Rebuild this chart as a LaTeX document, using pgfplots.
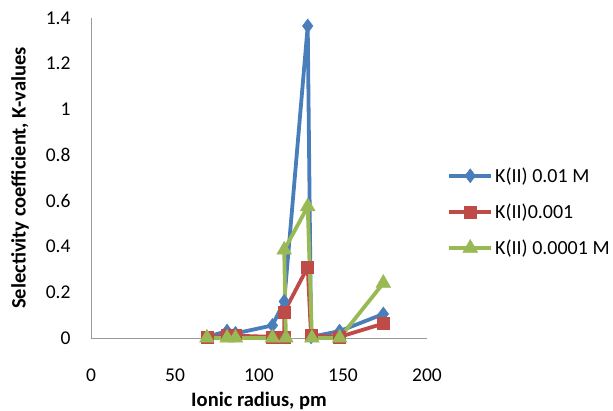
\documentclass[border=0pt]{standalone}
\usepackage{pgfplots}
\pgfplotsset{compat=1.18}
\usepackage{fontspec}
\setmainfont{Carlito}
\definecolor{xblue}{HTML}{4A7EBB}
\definecolor{xred}{HTML}{BE4B48}
\definecolor{xgreen}{HTML}{98B954}
\begin{document}
\begin{tikzpicture}
\begin{axis}[name=ax, scale only axis, width=336pt, height=320pt,
 xmin=0,xmax=200,ymin=0,ymax=1.4,
 clip=false,
 axis x line=bottom, axis y line=left,
 axis line style={draw=gray!80, -, line width=0.8pt},
 major tick length=0pt,
 xtick={0,50,100,150,200}, ytick={0,0.2,0.4,0.6,0.8,1,1.2,1.4},
 yticklabels={0,0.2,0.4,0.6,0.8,1,1.2,1.4},
 tick label style={font=\fontsize{19.5}{22}\selectfont},
 /pgf/number format/assume math mode=true,
 xticklabel style={anchor=center, yshift=-37pt},
 yticklabel style={anchor=east, xshift=-17pt},
 xlabel={Ionic radius, pm}, ylabel={Selectivity coefficient, K-values},
 label style={font=\bfseries\fontsize{20.5}{24}\selectfont},
 xlabel style={at={([yshift=-63pt]axis description cs:0.5,0)}, anchor=center},
 ylabel style={at={([xshift=-71pt]axis description cs:0,0.5)}, anchor=center},
 legend style={at={(1.06,0.394)}, anchor=west, draw=none, fill=none,
   font=\fontsize{20}{22}\selectfont, row sep=16pt, inner sep=0pt},
 legend cell align=left,
 legend image code/.code={\draw[mark repeat=2,mark phase=2,#1] plot coordinates {(0pt,0pt) (21pt,0pt) (42pt,0pt)};},
]
\addplot[xblue, line width=3.8pt, mark=diamond*, mark size=7pt, mark options={solid, line width=0.5pt}] coordinates {
(69,0.005) (81,0.03) (86,0.02) (108,0.055) (115,0.16) (129,1.365) (131,0.005) (148,0.03) (174,0.105)};
\addlegendentry{K(II) 0.01 M}
\addplot[xred, line width=3.8pt, mark=square*, mark size=6pt, mark options={solid, line width=0.5pt}] coordinates {
(69,0.002) (81,0.01) (86,0.01) (108,0.005) (115,0.005) (115,0.114) (129,0.31) (131,0.01) (148,0.005) (174,0.063)};
\addlegendentry{K(II)0.001}
\addplot[xgreen, line width=3.8pt, mark=triangle*, mark size=8.5pt, mark options={solid, line width=0.5pt}] coordinates {
(69,0) (81,0) (86,0) (108,0) (116,0) (115,0.385) (129,0.575) (131.5,0) (148,0) (174,0.24)};
\addlegendentry{K(II) 0.0001 M}
\end{axis}
\pgfresetboundingbox
\path[use as bounding box] ([shift={(-91pt,-73pt)}]ax.south west) rectangle ([shift={(186pt,18pt)}]ax.north east);
\end{tikzpicture}
\end{document}
